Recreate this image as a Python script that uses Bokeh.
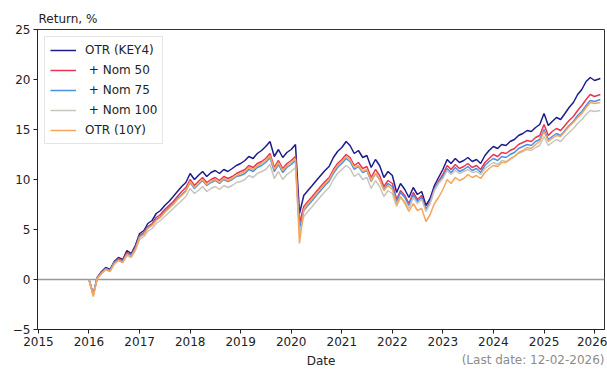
import pandas as pd
from bokeh.plotting import figure
from bokeh.models import (ColumnDataSource, Range1d, FixedTicker, DatetimeTickFormatter,
                          CustomJSTickFormatter, Span, Legend, LegendItem, Title)
from bokeh.embed import file_html
from bokeh.resources import INLINE

# ---- data (monthly readings, %), 2016-01 .. 2026-01 plus last date 2026-02-12 ----
dates = list(pd.date_range("2016-01-01", "2026-01-01", freq="MS")) + [pd.Timestamp("2026-02-12")]

otr_key4 = [
    0.0, -1.5, 0.2, 0.8, 1.2, 1.0, 1.8, 2.2, 2.0, 2.9, 2.6, 3.4,
    4.6, 4.9, 5.6, 5.9, 6.6, 6.9, 7.4, 7.8, 8.3, 8.8, 9.3, 9.7,
    10.6, 10.0, 10.4, 10.8, 10.3, 10.7, 10.9, 10.6, 11.0, 10.8, 11.1, 11.4,
    11.6, 11.9, 12.3, 12.1, 12.6, 12.9, 13.3, 13.8, 12.3, 13.0, 12.2, 12.7,
    13.0, 13.5, 6.6, 8.4, 8.9, 9.4, 9.9, 10.4, 10.9, 11.3, 12.2, 12.8,
    13.2, 13.8, 13.4, 12.6, 12.9, 12.2, 12.4, 11.2, 12.0, 11.4, 10.2, 10.8,
    10.4, 8.7, 9.6, 9.0, 8.2, 9.2, 8.5, 8.8, 7.4, 8.1, 9.4, 10.2,
    11.0, 12.0, 11.6, 12.1, 11.7, 11.9, 12.2, 11.8, 12.0, 11.6, 12.4, 12.9,
    13.3, 13.1, 13.5, 13.4, 13.8, 14.0, 14.4, 14.6, 14.9, 14.8, 15.2, 15.5,
    16.6, 15.4, 15.8, 16.2, 16.0, 16.6, 17.2, 17.7, 18.5, 19.0, 19.8, 20.2,
    19.9, 20.1,
]
nom_50 = [
    0.0, -1.5, 0.2, 0.7, 1.1, 0.9, 1.7, 2.1, 1.9, 2.7, 2.5, 3.2,
    4.4, 4.7, 5.3, 5.6, 6.2, 6.5, 7.0, 7.4, 7.8, 8.3, 8.8, 9.2,
    10.0, 9.4, 9.8, 10.2, 9.7, 10.0, 10.2, 9.9, 10.3, 10.1, 10.3, 10.6,
    10.8, 11.0, 11.4, 11.2, 11.6, 11.8, 12.1, 12.6, 11.2, 11.9, 11.1, 11.6,
    11.9, 12.3, 5.6, 7.3, 7.8, 8.3, 8.8, 9.3, 9.8, 10.2, 11.0, 11.6,
    12.0, 12.5, 12.2, 11.4, 11.7, 11.1, 11.3, 10.2, 11.0, 10.4, 9.3, 9.9,
    9.6, 8.0, 8.9, 8.4, 7.6, 8.7, 8.0, 8.4, 7.0, 7.8, 9.1, 9.8,
    10.5, 11.4, 11.0, 11.5, 11.1, 11.3, 11.6, 11.2, 11.4, 11.0, 11.7, 12.1,
    12.5, 12.3, 12.7, 12.6, 12.9, 13.1, 13.5, 13.7, 13.9, 13.8, 14.2, 14.4,
    15.5, 14.4, 14.8, 15.1, 14.9, 15.4, 15.9, 16.3, 16.9, 17.4, 18.0, 18.5,
    18.3, 18.5,
]
nom_75 = [
    0.0, -1.5, 0.2, 0.7, 1.1, 0.9, 1.7, 2.0, 1.8, 2.6, 2.4, 3.1,
    4.3, 4.6, 5.2, 5.5, 6.0, 6.3, 6.8, 7.2, 7.6, 8.1, 8.5, 8.9,
    9.7, 9.1, 9.5, 9.9, 9.4, 9.7, 9.9, 9.6, 10.0, 9.8, 10.0, 10.3,
    10.4, 10.6, 11.0, 10.8, 11.2, 11.4, 11.7, 12.2, 10.8, 11.5, 10.7, 11.2,
    11.5, 11.9, 5.1, 6.9, 7.4, 7.9, 8.4, 8.9, 9.4, 9.8, 10.6, 11.2,
    11.6, 12.1, 11.8, 11.0, 11.3, 10.7, 10.9, 9.8, 10.6, 10.0, 9.0, 9.6,
    9.3, 7.8, 8.7, 8.2, 7.4, 8.5, 7.8, 8.2, 6.9, 7.7, 9.0, 9.7,
    10.3, 11.1, 10.7, 11.2, 10.8, 11.0, 11.3, 10.9, 11.1, 10.7, 11.4, 11.8,
    12.1, 11.9, 12.3, 12.2, 12.5, 12.7, 13.1, 13.3, 13.5, 13.4, 13.8, 14.0,
    15.0, 14.0, 14.3, 14.6, 14.4, 14.9, 15.4, 15.8, 16.4, 16.8, 17.4, 17.9,
    17.8, 18.0,
]
nom_100 = [
    0.0, -1.6, 0.1, 0.6, 1.0, 0.8, 1.5, 1.9, 1.7, 2.4, 2.2, 2.9,
    4.0, 4.3, 4.8, 5.1, 5.6, 5.9, 6.3, 6.7, 7.1, 7.5, 7.9, 8.3,
    9.1, 8.6, 8.9, 9.3, 8.8, 9.1, 9.3, 9.0, 9.4, 9.2, 9.4, 9.7,
    9.8, 10.0, 10.4, 10.2, 10.6, 10.8, 11.0, 11.5, 10.1, 10.8, 10.0, 10.5,
    10.8, 11.2, 4.5, 6.3, 6.8, 7.3, 7.8, 8.3, 8.8, 9.2, 10.0, 10.6,
    11.0, 11.4, 11.1, 10.3, 10.6, 10.0, 10.2, 9.1, 9.9, 9.3, 8.3, 8.9,
    8.6, 7.3, 8.2, 7.8, 7.1, 8.2, 7.6, 8.0, 6.8, 7.6, 8.9, 9.6,
    10.1, 10.9, 10.5, 10.9, 10.6, 10.8, 11.0, 10.7, 10.8, 10.5, 11.1, 11.4,
    11.7, 11.5, 11.9, 11.8, 12.1, 12.3, 12.6, 12.8, 13.0, 12.9, 13.2, 13.4,
    14.3, 13.4, 13.7, 14.0, 13.8, 14.3, 14.7, 15.1, 15.6, 16.0, 16.5, 16.9,
    16.8, 16.9,
]
otr_10y = [
    0.0, -1.7, 0.1, 0.6, 1.0, 0.8, 1.6, 1.9, 1.7, 2.5, 2.3, 3.0,
    4.2, 4.5, 5.1, 5.4, 5.9, 6.2, 6.7, 7.1, 7.5, 8.0, 8.4, 8.8,
    9.8, 9.2, 9.6, 10.0, 9.5, 9.8, 10.0, 9.7, 10.1, 9.9, 10.1, 10.4,
    10.6, 10.8, 11.2, 11.0, 11.4, 11.6, 11.9, 12.4, 11.0, 11.7, 10.9, 11.4,
    11.7, 12.1, 3.6, 7.0, 7.6, 8.1, 8.6, 9.1, 9.6, 10.0, 10.8, 11.4,
    11.8, 12.3, 12.0, 11.2, 11.4, 10.8, 11.0, 9.9, 10.6, 10.0, 8.9, 9.4,
    9.0, 7.5, 8.3, 7.6, 6.8, 7.6, 6.9, 7.1, 5.8, 6.5, 7.6, 8.2,
    9.0, 10.0, 9.6, 10.2, 9.9, 10.1, 10.5, 10.2, 10.4, 10.1, 10.7, 11.1,
    11.4, 11.3, 11.7, 11.7, 12.0, 12.3, 12.7, 12.9, 13.2, 13.1, 13.5, 13.8,
    14.8, 13.8, 14.1, 14.4, 14.3, 14.8, 15.3, 15.7, 16.2, 16.6, 17.2, 17.7,
    17.6, 17.7,
]

series_names = ["OTR (KEY4)", "\u00a0+ Nom 50", "\u00a0+ Nom 75", "\u00a0+ Nom 100", "OTR (10Y)"]
series_values = [otr_key4, nom_50, nom_75, nom_100, otr_10y]
series_colors = ["#1c1c8c", "#ee3350", "#4a90e2", "#c9c5bd", "#f5a65b"]

tick_years = list(range(2015, 2027))
y_ticks = [-5, 0, 5, 10, 15, 20, 25]
y_label_text = "Return, %"
x_label_text = "Date"
last_date_text = "(Last date: 12-02-2026)"


def ms(ts):
    return pd.Timestamp(ts).value / 1e6


x_start = ms("2014-12-25")
x_end = ms("2026-03-14")
FONT = "DejaVu Sans"

p = figure(frame_width=567, frame_height=300,
           min_border_left=37, min_border_right=3, min_border_top=29, min_border_bottom=40,
           x_axis_type="datetime",
           x_range=Range1d(x_start, x_end), y_range=Range1d(-5, 25),
           output_backend="svg", toolbar_location=None)
p.background_fill_color = "white"
p.border_fill_color = "white"
p.outline_line_color = "#333333"
p.outline_line_width = 1
p.grid.visible = False

# "Return, %" above the frame, left aligned
p.title.text = y_label_text
p.title.align = "left"
p.title.text_font = FONT
p.title.text_font_size = "12px"
p.title.text_font_style = "normal"
p.title.text_color = "#222222"
p.title.standoff = 8
p.title.offset = 1

p.xaxis.ticker = FixedTicker(ticks=[ms(f"{y}-01-01") for y in tick_years])
p.xaxis.formatter = DatetimeTickFormatter(years="%Y", months="%Y", days="%Y",
                                          hours="%Y", minutes="%Y", seconds="%Y")
p.yaxis.ticker = FixedTicker(ticks=y_ticks)
p.yaxis.formatter = CustomJSTickFormatter(
    code="return tick < 0 ? '\\u2212' + Math.abs(tick) : String(tick);")

for ax in (p.xaxis, p.yaxis):
    ax.axis_line_color = "#222222"
    ax.axis_line_width = 1
    ax.major_tick_line_color = "#222222"
    ax.major_tick_in = 0
    ax.major_tick_out = 4
    ax.minor_tick_line_color = None
    ax.major_label_text_font = FONT
    ax.major_label_text_font_size = "12px"
    ax.major_label_text_color = "#222222"
p.xaxis.major_label_standoff = 3
p.yaxis.major_label_standoff = 3
p.xaxis.axis_label = x_label_text
p.xaxis.axis_label_text_font = FONT
p.xaxis.axis_label_text_font_size = "12px"
p.xaxis.axis_label_text_font_style = "normal"
p.xaxis.axis_label_text_color = "#222222"
p.xaxis.axis_label_standoff = 5

# "(Last date ...)" right-aligned on the same row as "Date"
last = Title(text=last_date_text, align="right", vertical_align="top", standoff=-36,
             text_font=FONT, text_font_size="12px", text_font_style="normal",
             text_color="#8c8c8c")
p.add_layout(last, "below")

zero = Span(location=0, dimension="width", line_color="#999999", line_width=1.5, level="underlay")
p.add_layout(zero)

items = []
for name, vals, col in zip(series_names, series_values, series_colors):
    src = ColumnDataSource(dict(date=dates, val=vals))
    r = p.line("date", "val", source=src, line_color=col, line_width=1.5)
    items.append(LegendItem(label=name, renderers=[r]))

legend = Legend(items=items, location="top_left", margin=7, padding=5, spacing=4,
                label_height=16, glyph_height=16, glyph_width=26, label_standoff=9,
                label_text_font=FONT, label_text_font_size="12px", label_text_color="#222222",
                border_line_color="#cccccc", border_line_width=1,
                background_fill_color="white", background_fill_alpha=0.85)
p.add_layout(legend)

open("out.html", "w").write(file_html(p, INLINE))
